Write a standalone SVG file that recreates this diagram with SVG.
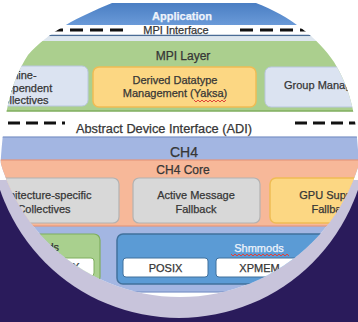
<svg xmlns="http://www.w3.org/2000/svg" width="358" height="322" viewBox="0 0 358 322">
  <defs>
    <style>
      text { font-family: "Liberation Sans", Arial, sans-serif; fill: #363636; stroke: #363636; stroke-width: 0.25; }
      .lbl { font-size: 11px; text-anchor: middle; }
      .ttl { font-size: 12px; text-anchor: middle; }
      .lite { fill: #eef3fb; stroke: #eef3fb; }
      .box-blue { fill: #dbe3f1; stroke: #b9c7df; stroke-width: 1; }
      .box-yellow { fill: #fcd783; stroke: #efbc54; stroke-width: 1.5; }
      .box-gray { fill: #d8d8d8; stroke: #b2b2b2; stroke-width: 1.2; }
      .box-white { fill: #ffffff; stroke: #41719c; stroke-width: 1; }
      .dash { stroke: #111; stroke-width: 3; fill: none; }
      .squiggle { fill: none; stroke: #e0403a; stroke-width: 1; }
    </style>
    <linearGradient id="appGrad" x1="0" y1="0" x2="0" y2="1">
      <stop offset="0" stop-color="#4a7ec3"/>
      <stop offset="1" stop-color="#6a9ad8"/>
    </linearGradient>
    <!-- rounded upper outline of the framed picture -->
    <clipPath id="upperFrame">
      <path d="M0,322 L0,178 C2,120 10,82 28,55 C48,32 80,16 112,3 L112,0 L256,0 L256,3 C290,16 318,38 334,62 C350,88 356,115 358,150 L358,322 Z"/>
    </clipPath>
    <clipPath id="lowerCircle"><circle cx="180" cy="110" r="187"/></clipPath>
    <clipPath id="belowBand"><rect x="0" y="180" width="358" height="142"/></clipPath>
  </defs>

  <!-- page and decorative backdrop -->
  <rect x="0" y="0" width="358" height="322" fill="#ffffff"/>
  <rect x="0" y="180" width="358" height="142" fill="#2a1b5b"/>
  <circle cx="179" cy="129" r="189" fill="#c8c4db" clip-path="url(#belowBand)"/>

  <g clip-path="url(#upperFrame)">
    <g clip-path="url(#lowerCircle)">
      <rect x="0" y="0" width="358" height="322" fill="#ffffff"/>

      <g id="application">
        <rect x="-20" y="3" width="400" height="22" fill="url(#appGrad)"/>
        <text x="182" y="20" class="lite" style="font-size:11px;font-weight:bold;text-anchor:middle">Application</text>
      </g>

      <g id="interfaces">
        <text x="176" y="33.5" class="lbl" style="font-size:11px">MPI Interface</text>
        <line x1="-10" y1="30" x2="128" y2="30" class="dash" stroke-dasharray="13 7"/>
        <line x1="240" y1="30" x2="370" y2="30" class="dash" stroke-dasharray="13 7"/>
        <line x1="-20" y1="35.5" x2="380" y2="35.5" stroke="#4a6c96" stroke-width="1.5"/>
        <rect x="-20" y="36.5" width="400" height="4.5" fill="#dde6ee"/>
        <line x1="-10" y1="123" x2="65" y2="123" class="dash" stroke-dasharray="12 6"/>
        <line x1="295" y1="123" x2="370" y2="123" class="dash" stroke-dasharray="12 6"/>
        <text x="164" y="133" style="font-size:12.5px;text-anchor:middle" textLength="176" lengthAdjust="spacingAndGlyphs">Abstract Device Interface (ADI)</text>
      </g>

      <g id="mpi-layer">
        <rect x="-20" y="41" width="400" height="70" fill="#abcf8e"/>
        <line x1="-20" y1="111" x2="380" y2="111" stroke="#7fae5e" stroke-width="1.5"/>
        <text x="183" y="60" class="ttl">MPI Layer</text>
      </g>

      <g id="machine-independent-collectives">
        <rect x="-40" y="66" width="128" height="40" rx="6" class="box-blue"/>
        <text x="14" y="79" class="lbl">Machine-</text>
        <text x="22" y="92" class="lbl">independent</text>
        <text x="22" y="104" class="lbl">Collectives</text>
      </g>

      <g id="derived-datatype">
        <rect x="93" y="67" width="163" height="40" rx="6" class="box-yellow"/>
        <text x="175" y="84" class="lbl">Derived Datatype</text>
        <text x="175" y="97" class="lbl">Management (Yaksa)</text>
        <polyline class="squiggle" points="194,100 196,102 198,100 200,102 202,100 204,102 206,100 208,102 210,100 212,102 214,100 216,102 218,100 220,102 222,100 224,102 226,100"/>
      </g>

      <g id="group-management">
        <rect x="265" y="67" width="140" height="40" rx="6" class="box-blue"/>
        <text x="284" y="89" style="font-size:11px">Group Management</text>
      </g>

      <g id="ch4">
        <rect x="-20" y="137" width="400" height="155" fill="#a3b6e2" stroke="#7b92c6" stroke-width="1.2"/>
        <text x="184" y="157" style="font-size:14px;text-anchor:middle">CH4</text>
      </g>

      <g id="ch4-core">
        <rect x="-20" y="160" width="400" height="66" fill="#f7b899" stroke="#e6967a" stroke-width="1.2"/>
        <text x="183" y="174" class="ttl">CH4 Core</text>
      </g>

      <g id="arch-collectives">
        <rect x="-40" y="178" width="159" height="45" rx="6" class="box-gray"/>
        <text x="42" y="199" class="lbl">Architecture-specific</text>
        <text x="44" y="213" class="lbl">Collectives</text>
      </g>

      <g id="am-fallback">
        <rect x="133" y="178" width="127" height="45" rx="6" class="box-gray"/>
        <text x="196" y="199" class="lbl">Active Message</text>
        <text x="196" y="213" class="lbl">Fallback</text>
      </g>

      <g id="gpu-fallback">
        <rect x="270" y="178" width="130" height="45" rx="6" class="box-yellow"/>
        <text x="332" y="199" class="lbl">GPU Support</text>
        <text x="332" y="213" class="lbl">Fallback</text>
      </g>

      <g id="netmods">
        <rect x="-40" y="234" width="140" height="49" rx="6" fill="#a9d08e" stroke="#7fae5e" stroke-width="1.2"/>
        <text x="37" y="251" class="lbl">Netmods</text>
        <polyline class="squiggle" points="16,253 18,255 20,253 22,255 24,253 26,255 28,253 30,255 32,253 34,255 36,253 38,255 40,253 42,255 44,253 46,255 48,253 50,255 52,253 54,255 56,253 58,255 60,253"/>
        <rect x="45" y="258" width="49" height="18" rx="3" fill="#ffffff" stroke="#7fae5e" stroke-width="1"/>
        <text x="68" y="271" class="lbl">UCX</text>
      </g>

      <g id="shmmods">
        <rect x="117" y="234" width="283" height="50" rx="6" fill="#5b9bd5" stroke="#41719c" stroke-width="1.5"/>
        <text x="259" y="252" class="lbl lite">Shmmods</text>
        <polyline class="squiggle" points="231,254 233,256 235,254 237,256 239,254 241,256 243,254 245,256 247,254 249,256 251,254 253,256 255,254 257,256 259,254 261,256 263,254 265,256 267,254 269,256 271,254 273,256 275,254 277,256 279,254 281,256 283,254 285,256 287,254 289,256"/>
      </g>

      <g id="posix">
        <rect x="123" y="258" width="85" height="19" rx="3" class="box-white"/>
        <text x="165.5" y="272" class="lbl">POSIX</text>
      </g>

      <g id="xpmem">
        <rect x="216" y="258" width="87" height="19" rx="3" class="box-white"/>
        <text x="259.5" y="272" class="lbl">XPMEM</text>
      </g>
    </g>
  </g>
</svg>
